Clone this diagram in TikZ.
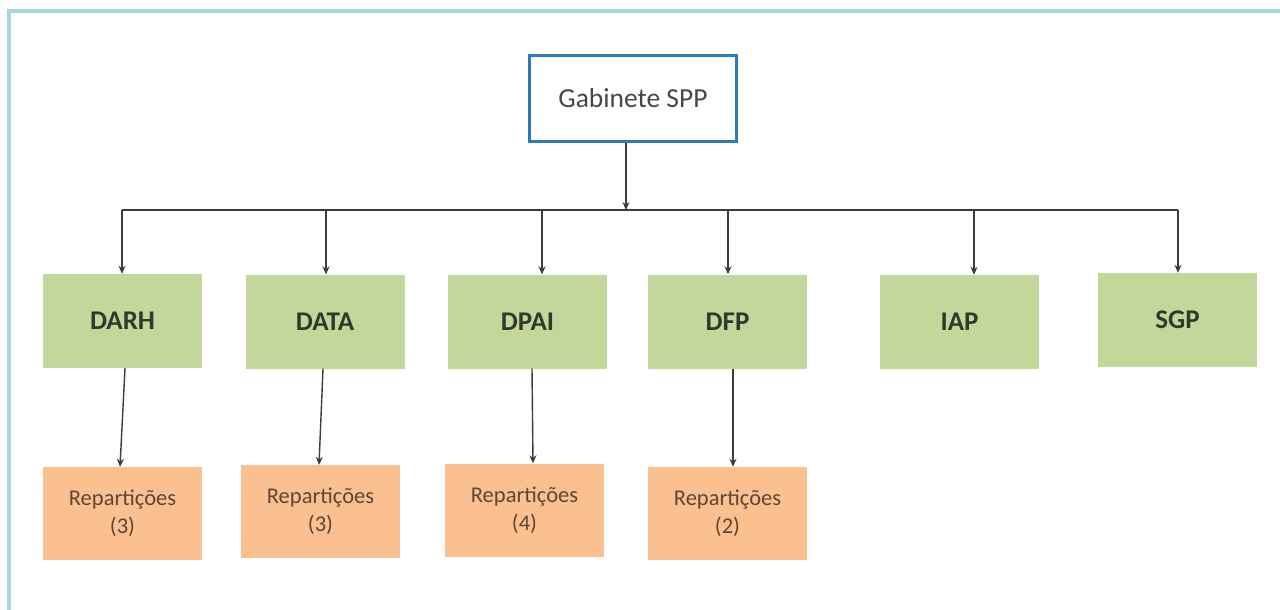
\documentclass[tikz,border=0pt]{standalone}
\usepackage{fontspec}
\setmainfont{Carlito}
\usetikzlibrary{arrows.meta}
\definecolor{framecol}{HTML}{A6D6E4}
\definecolor{topblue}{HTML}{2E78BC}
\definecolor{unitgreen}{HTML}{C4D79B}
\definecolor{reporange}{HTML}{FAC090}
\definecolor{linecol}{HTML}{3C3C3C}
\definecolor{toptext}{HTML}{474747}
\definecolor{unittext}{HTML}{33382C}
\definecolor{reptext}{HTML}{5E4634}
\tikzset{
  topbox/.style={draw=topblue, line width=3pt, fill=white, minimum width=207pt,
    minimum height=86pt, inner sep=0pt, text=toptext, font=\fontsize{27.5}{32}\selectfont},
  unitbox/.style={fill=unitgreen, minimum width=159pt, minimum height=94pt,
    inner sep=0pt, text=unittext, font=\fontsize{27}{30}\selectfont\bfseries},
  repbox/.style={fill=reporange, minimum width=159pt, minimum height=93pt,
    inner sep=0pt, text=reptext, align=center, font=\fontsize{22.5}{28}\selectfont},
  conn/.style={draw=linecol, line width=1.4pt},
  arr/.style={conn, -{Stealth[length=8pt,width=7pt]}}
}
\begin{document}
\begin{tikzpicture}[x=1pt,y=-1pt]
  \useasboundingbox (0,0) rectangle (1280,610);
  % outer frame (top and left edges)
  \draw[framecol, line width=3.5pt] (9,610) -- (9,11) -- (1280,11);

  % head office
  \node[topbox] (gab) at (633,98.5) {Gabinete SPP};

  % directorates and services
  \node[unitbox] (darh) at (122.5,321) {DARH};
  \node[unitbox] (data) at (325,321.5) {DATA};
  \node[unitbox] (dpai) at (527.5,321.5) {DPAI};
  \node[unitbox] (dfp)  at (727.5,321.5) {DFP};
  \node[unitbox] (iap)  at (959.5,322) {IAP};
  \node[unitbox] (sgp)  at (1177.5,320) {SGP};

  % sections under each directorate
  \node[repbox] (rep1) at (122.5,513.5) {Repartições\\(3)};
  \node[repbox] (rep2) at (320.5,511.5) {Repartições\\(3)};
  \node[repbox] (rep3) at (524.5,510) {Repartições\\(4)};
  \node[repbox] (rep4) at (727.5,513.5) {Repartições\\(2)};

  % distribution bus
  \coordinate (bus) at (626,210);
  \coordinate (d1) at (122,210);
  \coordinate (d2) at (326,210);
  \coordinate (d3) at (542,210);
  \coordinate (d4) at (728,210);
  \coordinate (d5) at (974,210);
  \coordinate (d6) at (1178,210);

  \draw[arr] (gab.south -| bus) -- (bus);
  \draw[conn] (d1) -- (d6);
  \draw[arr] (d1) -- (d1 |- darh.north);
  \draw[arr] (d2) -- (d2 |- data.north);
  \draw[arr] (d3) -- (d3 |- dpai.north);
  \draw[arr] (d4) -- (d4 |- dfp.north);
  \draw[arr] (d5) -- (d5 |- iap.north);
  \draw[arr] (d6) -- (d6 |- sgp.north);

  % links down to the sections
  \draw[arr] ([xshift=2.5pt]darh.south) -- ([xshift=-2.5pt]rep1.north);
  \draw[arr] ([xshift=-2pt]data.south) -- ([xshift=-1.5pt]rep2.north);
  \draw[arr] ([xshift=4.5pt]dpai.south) -- ([xshift=8.5pt]rep3.north);
  \draw[arr] ([xshift=5.5pt]dfp.south) -- ([xshift=5.5pt]rep4.north);
\end{tikzpicture}
\end{document}
